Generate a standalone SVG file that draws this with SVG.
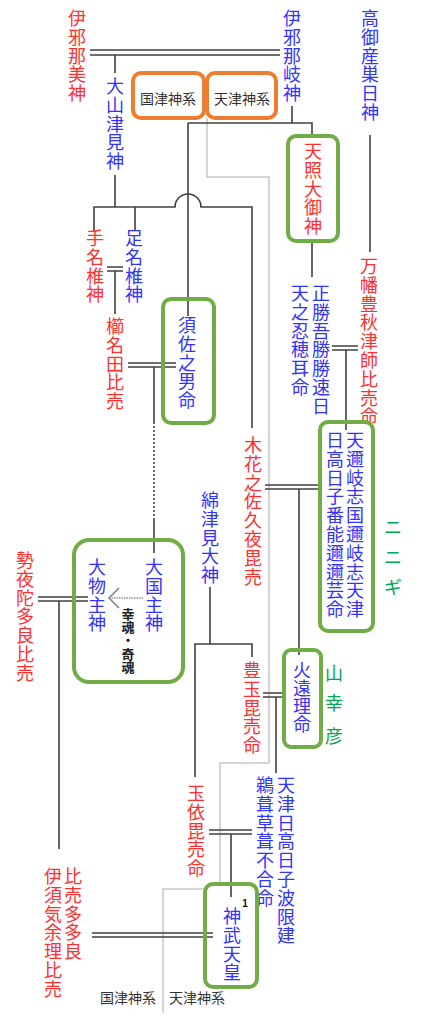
<svg xmlns="http://www.w3.org/2000/svg" width="421" height="1024" viewBox="0 0 421 1024">
<style>
text{font-family:"Noto Sans CJK JP","Noto Sans CJK SC",sans-serif;text-anchor:middle}
.n{font-size:18px}
.r{fill:#ff3030}
.b{fill:#3333ff}
.g{fill:#00a84f;font-size:18px}
.k{fill:#333;font-size:14px}
.s{fill:#222;font-size:13px;font-weight:bold}
.ln{fill:none;stroke:#404040;stroke-width:1.6}
.lt{fill:none;stroke:#c8c8c8;stroke-width:1.5}
.gb{fill:none;stroke:#70ad47;stroke-width:4}
.ob{fill:none;stroke:#ed7d31;stroke-width:4}
</style>
<g id="connectors">
<path class="lt" d="M207,118V177H269V763H220V885M205,889H163V1013"/>
<path class="ln" d="M90,50H280M90,55H280"/>
<path class="ln" d="M115,55V73M115,175V207"/>
<path class="ln" d="M94,232V207H175A13,13 0 0 1 201,207H252V428M135,207V230"/>
<path class="ln" d="M188,123V316M188,123H312V136M292,106V123"/>
<path class="ln" d="M312,241V277"/>
<path class="ln" d="M370,135V252"/>
<path class="ln" d="M107,267H123M107,271H123M115,271V314"/>
<path class="ln" d="M128,363H176M128,367H176M154,367V422M154,520V553"/>
<path class="ln" d="M154,422V520" stroke-dasharray="2,2"/>
<path class="ln" d="M332,346H358M332,350H358M346,350V430"/>
<path class="ln" d="M265,485H320M265,489H320M299,489V655"/>
<path class="ln" d="M210,587V644M195,777V644H252V657"/>
<path class="ln" d="M263,693H285M263,697H285M276,697V773"/>
<path class="ln" d="M209,830H252M209,834H252M231,834V897"/>
<path class="ln" d="M38,597H88M38,601H88M59,601V849"/>
<path class="ln" d="M92,933H213M92,937H213"/>
<path d="M143,598H111" fill="none" stroke="#909090" stroke-width="1.5" stroke-dasharray="1.5,1"/>
<polyline points="119,588 109,598 119,608" fill="none" stroke="#808080" stroke-width="1.5"/>
</g>
<g id="kunitsu-top"><rect class="ob" x="133" y="73" width="71" height="45" rx="8"/><text class="k" x="168" y="104">国津神系</text></g>
<g id="amatsu-top"><rect class="ob" x="207" y="73" width="69" height="45" rx="8"/><text class="k" x="242" y="104">天津神系</text></g>
<g id="izanami"><text class="n r" x="77 77 77 77 77" y="25 43.8 62.6 81.4 100.2">伊邪那美神</text></g>
<g id="izanagi"><text class="n b" x="292 292 292 292 292" y="25 43.8 62.6 81.4 100.2">伊邪那岐神</text></g>
<g id="takamimusubi"><text class="n b" x="370 370 370 370 370 370" y="25 43.8 62.6 81.4 100.2 119">高御産巣日神</text></g>
<g id="oyamatsumi"><text class="n b" x="115 115 115 115 115" y="93 111.8 130.6 149.4 168.2">大山津見神</text></g>
<g id="amaterasu"><rect class="gb" x="288" y="136" width="50" height="105" rx="8"/><text class="n r" x="313 313 313 313 313" y="158 176.8 195.6 214.4 233.2">天照大御神</text></g>
<g id="tenazuchi"><text class="n r" x="95 95 95 95" y="245 263.8 282.6 301.4">手名椎神</text></g>
<g id="ashinazuchi"><text class="n b" x="134 134 134 134" y="245 263.8 282.6 301.4">足名椎神</text></g>
<g id="yorozuhata"><text class="n r" x="369 369 369 369 369 369 369 369 369" y="273 291.8 310.6 329.4 348.2 367 385.8 404.6 423.4">万幡豊秋津師比売命</text></g>
<g id="oshihomimi"><text class="n b" x="321 321 321 321 321 321 321 300 300 300 300 300 300" y="300 318.8 337.6 356.4 375.2 394 412.8 300 318.8 337.6 356.4 375.2 394">正勝吾勝勝速日天之忍穂耳命</text></g>
<g id="kushinada"><text class="n r" x="115 115 115 115 115" y="333 351.8 370.6 389.4 408.2">櫛名田比売</text></g>
<g id="susanoo"><rect class="gb" x="163" y="299" width="51" height="124" rx="8"/><text class="n b" x="187 187 187 187 187" y="332 350.8 369.6 388.4 407.2">須佐之男命</text></g>
<g id="ninigi"><rect class="gb" x="320" y="422" width="53" height="209" rx="8"/><text class="n b" x="355 355 355 355 355 355 355 355 355 355 335 335 335 335 335 335 335 335 335 335" y="447 465.8 484.6 503.4 522.2 541 559.8 578.6 597.4 616.2 447 465.8 484.6 503.4 522.2 541 559.8 578.6 597.4 616.2">天邇岐志国邇岐志天津日高日子番能邇邇芸命</text><text class="g" x="393 393 393" y="534 564 594">ニニギ</text></g>
<g id="konohana"><text class="n r" x="253 253 253 253 253 253 253 253" y="452 470.8 489.6 508.4 527.2 546 564.8 583.6">木花之佐久夜毘売</text></g>
<g id="watatsumi"><text class="n b" x="210 210 210 210 210" y="507 525.8 544.6 563.4 582.2">綿津見大神</text></g>
<g id="seyadatara"><text class="n r" x="25 25 25 25 25 25 25" y="567 585.8 604.6 623.4 642.2 661 679.8">勢夜陀多良比売</text></g>
<g id="omononushi"><rect class="gb" x="74" y="540" width="109" height="142" rx="15"/><text class="n b" x="97 97 97 97" y="574 592.8 611.6 630.4">大物主神</text><text class="n b" x="154 154 154 154" y="574 592.8 611.6 630.4">大国主神</text><text class="s" x="128 128 128 128 128" y="618.5 632 645 658.5 671.5">幸魂・奇魂</text></g>
<g id="toyotama"><text class="n r" x="252 252 252 252 252" y="677 695.8 714.6 733.4 752.2">豊玉毘売命</text></g>
<g id="hoori"><rect class="gb" x="284" y="650" width="37" height="97" rx="7"/><text class="n b" x="302 302 302 302" y="677 695 713 731">火遠理命</text><text class="g" x="334 334 334" y="680 710 743">山幸彦</text></g>
<g id="ugayafukiaezu"><text class="n b" x="286 286 286 286 286 286 286 286 286 265 265 265 265 265 265 265" y="792 810.8 829.6 848.4 867.2 886 904.8 923.6 942.4 792 810.8 829.6 848.4 867.2 886 904.8">天津日高日子波限建鵜葺草葺不合命</text></g>
<g id="tamayori"><text class="n r" x="196 196 196 196 196" y="800 818.8 837.6 856.4 875.2">玉依毘売命</text></g>
<g id="jimmu"><rect class="gb" x="205" y="884" width="52" height="103" rx="8"/><text class="n b" x="232 232 232 232" y="923 941.8 960.6 979.4">神武天皇</text><text x="245" y="907" style="font-family:'Liberation Sans',sans-serif;font-size:10px;font-weight:bold;fill:#111">1</text></g>
<g id="himetatara"><text class="n r" x="73 73 73 73 73 53 53 53 53 53 53 53" y="883 901.8 920.6 939.4 958.2 883 901.8 920.6 939.4 958.2 977 995.8">比売多多良伊須気余理比売</text></g>
<g id="legend-bottom"><text class="k" x="128" y="1003">国津神系</text><text class="k" x="197" y="1003">天津神系</text></g>
</svg>
